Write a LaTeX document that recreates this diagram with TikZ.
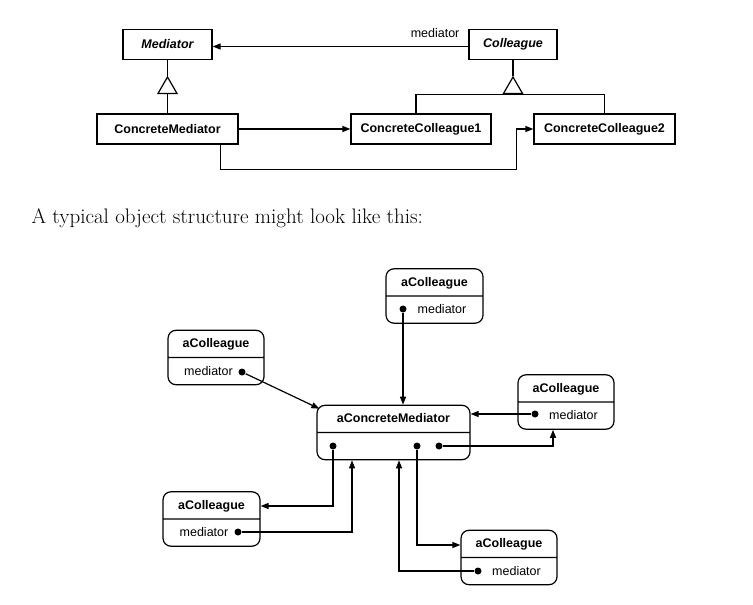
\documentclass[tikz,border=0pt]{standalone}
\usepackage{fontspec}
\setsansfont{Liberation Sans}
\usetikzlibrary{shapes.geometric, shapes.multipart, positioning, arrows.meta, calc}

\newcommand{\partstrut}{\rule[-5pt]{0pt}{18pt}}

\begin{document}
\begin{tikzpicture}[
    x=1pt, y=-1pt, line width=1.2pt,
    >={Triangle[length=8pt,width=6pt]},
    class/.style={draw, rectangle, minimum height=30pt, inner sep=2pt, font=\sffamily\bfseries\fontsize{12.5}{14}\selectfont},
    abstract/.style={class, font=\sffamily\bfseries\itshape\fontsize{12.5}{14}\selectfont},
    inherit/.style={draw, regular polygon, regular polygon sides=3, minimum size=22pt, inner sep=0pt, fill=white},
    object/.style={draw, rectangle split, rectangle split parts=2, rounded corners=8pt, inner ysep=4pt, inner xsep=3pt, font=\sffamily\fontsize{12.5}{14}\selectfont},
    dot/.style={circle, fill, inner sep=0pt, minimum size=7pt},
    lbl/.style={font=\sffamily\fontsize{12.5}{14}\selectfont, inner sep=0pt}
]
    \useasboundingbox (0,0) rectangle (753,605);

    % ================= CLASS STRUCTURE =================
    \node[abstract, minimum width=89pt] (Mediator) at (167.5,44.5) {Mediator};
    \node[abstract, minimum width=88pt] (Colleague) at (513,44.5) {Colleague};
    \node[class, minimum width=141pt] (CM) at (167.5,129) {ConcreteMediator};
    \node[class, minimum width=140pt] (CC1) at (421,129) {ConcreteColleague1};
    \node[class, minimum width=141pt] (CC2) at (604.5,129) {ConcreteColleague2};

    % inheritance
    \node[inherit] (gen1) at (167.5,88) {};
    \node[inherit] (gen2) at (513,88) {};
    \draw (Mediator) -- (gen1.corner 1);
    \draw (gen1.side 2) -- (CM);
    \draw (Colleague) -- (gen2.corner 1);
    \draw ([xshift=-5pt]CC1.north) |- (gen2.side 2) -| (CC2.north);

    % associations
    \draw[->] ([yshift=-2pt]Colleague.west) -- ([yshift=-2pt]Mediator.east);
    \node[lbl, anchor=base east] (medlbl) at (460,37) {mediator};
    \draw[->] (CM) -- (CC1);
    \draw[->] ([xshift=-18pt]CM.south east) -- ++(0,25) -| ($(CC2.west)+(-17,0)$) -- (CC2.west);

    % ================= CAPTION =================
    \node[anchor=base west, inner sep=0pt, font=\rmfamily\fontsize{21}{24}\selectfont] (intro) at (31,223) {A typical object structure might look like this:};

    % ================= OBJECT STRUCTURE =================
    \node[object, minimum width=153pt] (m) at (393.5,432.5) {\textbf{aConcreteMediator}\partstrut\nodepart{two}\partstrut};
    \node[object, minimum width=97pt] (c1) at (434.5,296) {\textbf{aColleague}\partstrut\nodepart{two}\hspace{15pt}mediator\partstrut};
    \node[object, minimum width=96pt] (c2) at (216,357.5) {\textbf{aColleague}\partstrut\nodepart{two}mediator\hspace{15pt}\partstrut};
    \node[object, minimum width=96pt] (c3) at (566,402) {\textbf{aColleague}\partstrut\nodepart{two}\hspace{15pt}mediator\partstrut};
    \node[object, minimum width=97pt] (c4) at (211.5,519) {\textbf{aColleague}\partstrut\nodepart{two}mediator\hspace{15pt}\partstrut};
    \node[object, minimum width=96pt] (c5) at (509,557.5) {\textbf{aColleague}\partstrut\nodepart{two}\hspace{15pt}mediator\partstrut};

    % mediator references
    \node[dot] (d1) at (403,309) {};
    \node[dot] (d2) at (242,372) {};
    \node[dot] (d3) at (535,414) {};
    \node[dot] (d4) at (238,532) {};
    \node[dot] (d5) at (478,571) {};
    \node[dot] (md1) at (333,446) {};
    \node[dot] (md2) at (417,446) {};
    \node[dot] (md3) at (439,446) {};

    \draw[->] (d1) -- (d1 |- m.north);
    \draw[->] (d2) -- ([shift={(3pt,-4pt)}]m.north west);
    \draw[->] (d3) -- (d3 -| m.east);
    \draw[->] (d4) -| ([xshift=-41.5pt]m.south);
    \draw[->] (d5) -| ([xshift=5.5pt]m.south);

    % colleague references
    \draw[->] (md1) |- ([yshift=13pt]c4.east);
    \draw[->] (md2) |- ([yshift=12.5pt]c5.west);
    \draw[->] (md3) -| ($(c3.south)+(-13,0)$);

\end{tikzpicture}
\end{document}
